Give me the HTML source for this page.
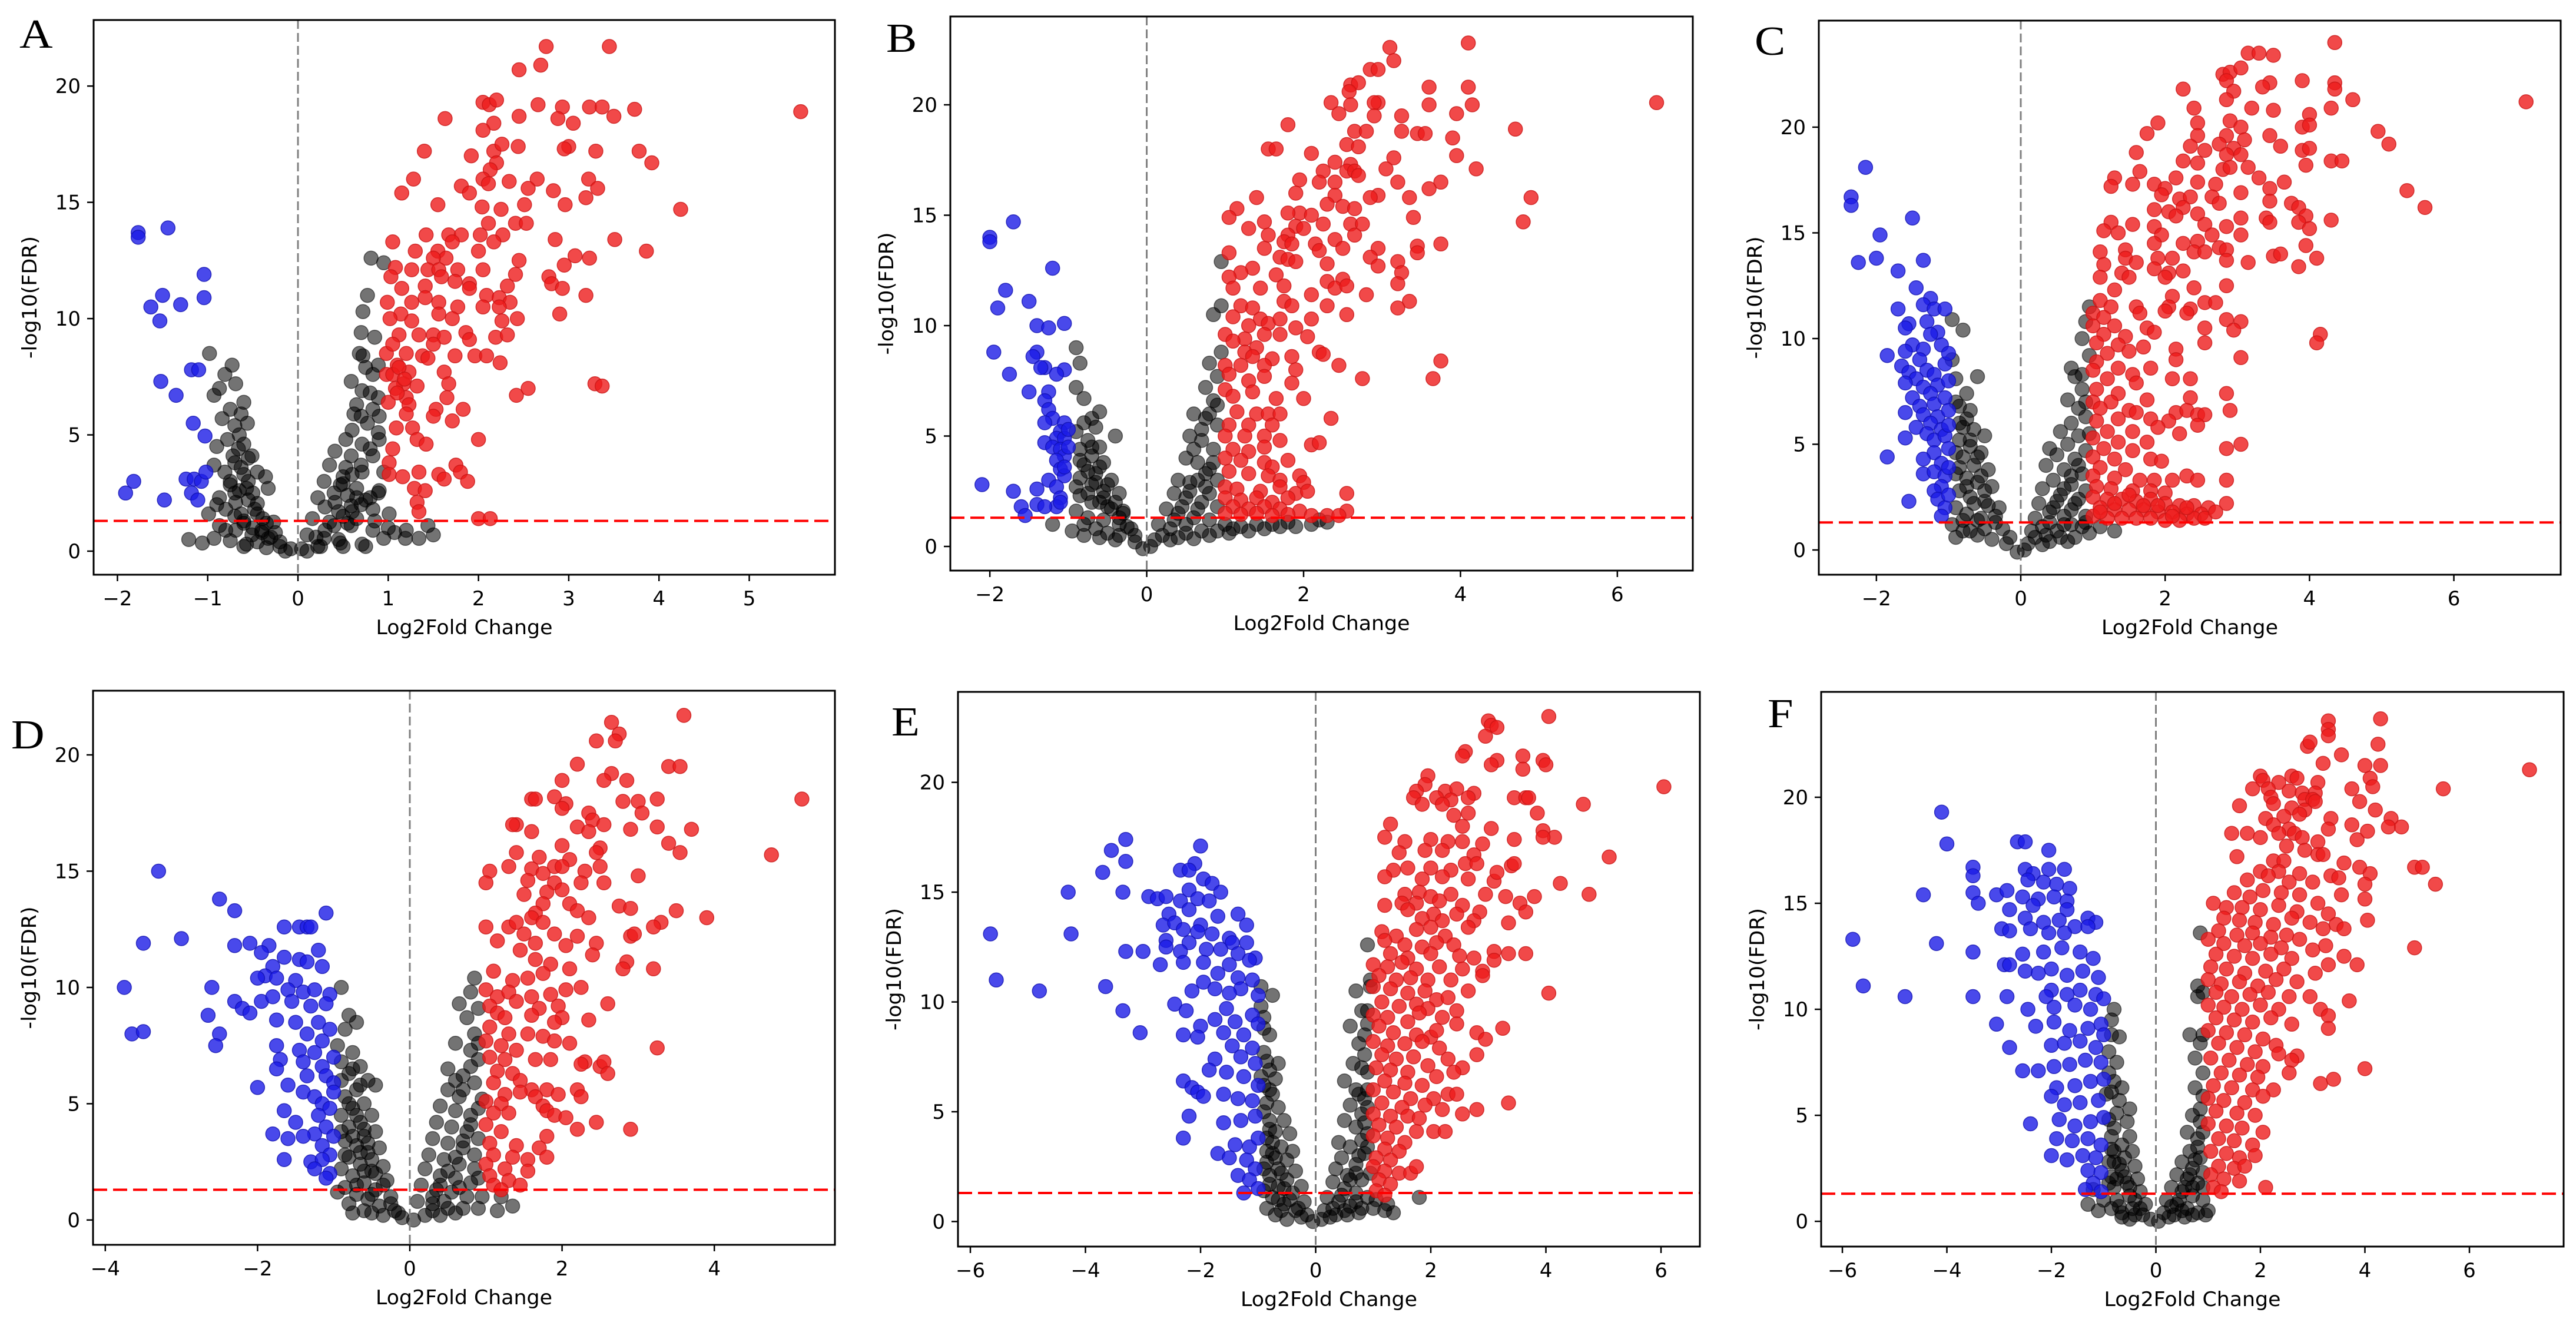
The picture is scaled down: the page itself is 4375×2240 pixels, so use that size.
<!DOCTYPE html>
<html>
<head>
<meta charset="utf-8">
<style>
html,body{margin:0;padding:0;background:#fff;}
svg{display:block;}
text{font-family:"DejaVu Sans","Liberation Sans",sans-serif;fill:#000;}
.letter{font-family:"Liberation Serif",serif;}
</style>
</head>
<body>
<svg id="fig" xmlns="http://www.w3.org/2000/svg" width="4375" height="2240" viewBox="0 0 4375 2240">
<rect x="0" y="0" width="4375" height="2240" fill="#fff"/>
</svg>
<script>
// ---------- Panel A ----------
const A_red=[[2.75,21.7],[3.45,21.7],[2.45,20.7],[2.69,20.9],[5.57,18.9],[2.05,19.3],[2.12,19.2],[2.2,19.4],[2.66,19.2],[2.93,19.1],[3.23,19.1],[3.37,19.1],[3.73,19.0],[3.5,18.7],[2.45,18.7],[1.63,18.6],[2.17,18.4],[2.88,18.6],[3.05,18.4],[2.05,18.1],[1.4,17.2],[1.92,17.0],[2.17,17.2],[2.26,17.5],[2.44,17.4],[3.0,17.4],[2.95,17.3],[3.3,17.2],[3.78,17.2],[3.92,16.7],[2.2,16.7],[2.13,16.4],[1.28,16.0],[2.05,16.0],[2.65,16.0],[3.22,16.0],[1.81,15.7],[1.9,15.4],[2.11,15.8],[2.34,15.9],[2.55,15.6],[2.83,15.5],[3.32,15.6],[1.15,15.4],[3.19,15.2],[1.55,14.9],[2.51,14.9],[2.96,14.9],[2.04,14.8],[2.25,14.7],[4.24,14.7],[2.11,14.1],[2.41,14.1],[2.53,14.1],[1.67,13.6],[1.42,13.6],[1.81,13.6],[2.02,13.6],[2.27,13.6],[2.85,13.4],[3.51,13.4],[2.17,13.3],[1.05,13.3],[1.71,13.3],[1.3,12.9],[1.55,12.9],[2.0,12.9],[3.86,12.9],[1.64,12.6],[1.5,12.6],[2.45,12.5],[3.07,12.7],[3.23,12.6],[1.08,12.2],[1.26,12.1],[1.44,12.1],[1.56,12.1],[1.77,12.1],[2.05,12.1],[2.95,12.3],[2.41,11.9],[1.03,11.8],[1.59,11.8],[1.74,11.6],[1.9,11.5],[2.78,11.8],[2.81,11.5],[1.15,11.3],[1.41,11.4],[2.32,11.4],[1.9,11.3],[2.93,11.3],[2.09,11.0],[2.23,10.9],[3.19,11.0],[0.99,10.7],[1.26,10.7],[1.41,10.9],[1.56,10.7],[1.77,10.5],[2.05,10.5],[2.35,10.7],[1.14,10.2],[1.02,10.0],[1.26,9.9],[1.56,10.2],[1.71,10.0],[2.23,10.5],[2.43,10.0],[2.9,10.2],[2.26,9.9],[1.12,9.3],[1.34,9.3],[1.5,9.3],[1.62,9.2],[1.86,9.4],[2.19,9.2],[2.32,9.3],[1.5,8.9],[1.9,9.1],[0.98,8.5],[1.2,8.5],[1.38,8.4],[1.74,8.4],[1.96,8.4],[2.09,8.4],[2.24,8.1],[1.44,8.3],[1.1,8.0],[0.98,7.6],[1.23,7.7],[1.62,7.7],[1.17,7.2],[1.67,7.2],[1.32,7.1],[1.08,7.0],[2.42,6.7],[2.55,7.0],[3.29,7.2],[3.37,7.1],[1.2,6.6],[1.65,6.6],[1.0,6.4],[1.23,6.3],[1.53,6.1],[1.83,6.1],[1.5,5.8],[1.71,5.6],[1.09,5.3],[1.27,5.3],[2.0,4.8],[1.32,4.8],[1.42,4.6],[1.05,4.4],[1.01,3.8],[1.75,3.7],[1.8,3.4],[1.34,3.4],[1.01,3.3],[1.16,3.2],[1.56,3.3],[1.62,3.1],[1.88,3.0],[1.29,2.7],[1.41,2.6],[1.32,2.1],[1.34,1.7],[2.0,1.4],[2.13,1.4],[1.05,7.6],[1.12,7.9],[1.18,7.4],[1.05,8.9],[1.1,6.8],[1.2,5.9]];
const A_blue=[[-1.77,13.7],[-1.77,13.5],[-1.44,13.9],[-1.04,11.9],[-1.5,11.0],[-1.63,10.5],[-1.3,10.6],[-1.04,10.9],[-1.53,9.9],[-1.18,7.8],[-1.1,7.8],[-1.52,7.3],[-1.35,6.7],[-1.16,5.5],[-1.03,4.95],[-1.82,3.0],[-1.91,2.5],[-1.48,2.2],[-1.24,3.1],[-1.15,3.1],[-1.07,3.0],[-1.02,3.4],[-1.18,2.5],[-1.11,2.2]];
const A_grey=[[-0.98,8.5],[-0.73,8.0],[-0.81,7.6],[-0.69,7.2],[-0.87,7.0],[-0.93,6.7],[-0.6,6.4],[-0.75,6.1],[-0.84,5.7],[-0.63,5.9],[-0.56,5.5],[-0.78,4.8],[-0.6,4.6],[-0.9,4.5],[-0.72,4.1],[-0.51,4.1],[-0.93,3.7],[-0.81,3.4],[-0.63,3.6],[-0.45,3.4],[-0.36,3.2],[-0.75,2.85],[-0.57,2.7],[-0.33,2.7],[-0.87,2.3],[-0.69,2.1],[-0.45,2.05],[-0.99,1.6],[-0.63,1.6],[-0.39,1.4],[-0.27,1.25],[-0.87,1.1],[-0.69,0.9],[-0.51,0.7],[-0.33,0.55],[-1.21,0.5],[-1.06,0.35],[-0.93,0.55],[-0.75,0.45],[-0.57,0.3],[-0.2,0.2],[-0.08,0.1],[-0.66,4.4],[-0.55,3.0],[-0.7,2.5],[-0.48,1.8],[-0.6,1.2],[-0.4,0.9],
[0.81,12.6],[0.95,12.4],[0.77,11.0],[0.72,10.3],[0.7,9.4],[0.85,9.2],[0.68,8.5],[0.72,8.4],[0.89,8.0],[0.83,7.6],[0.59,7.3],[0.71,6.9],[0.89,6.6],[0.65,6.3],[0.83,6.1],[0.62,5.9],[0.77,5.5],[0.89,5.1],[0.53,4.8],[0.71,4.6],[0.41,4.3],[0.59,4.1],[0.83,4.1],[0.35,3.7],[0.53,3.6],[0.71,3.4],[0.95,3.4],[0.29,3.0],[0.47,2.85],[0.65,2.7],[0.89,2.5],[0.22,2.3],[0.41,2.1],[0.59,1.95],[0.83,1.8],[1.01,1.6],[0.16,1.4],[0.35,1.25],[0.59,1.1],[0.83,0.9],[1.07,0.8],[1.19,0.55],[1.34,0.55],[1.5,0.7],[1.44,1.1],[0.1,0.7],[0.29,0.55],[0.47,0.35],[0.71,0.3],[0.95,0.55],[0.04,0.1],[0.22,0.2],[-0.14,0.0],[0.1,0.0],[0.5,3.2],[0.45,1.7],[0.65,1.4],[0.75,2.2],[0.55,2.4],[0.9,5.8],[0.75,7.9]];
const A_core=[[-0.9,2.0],[-0.8,1.8],[-0.7,1.5],[-0.6,1.3],[-0.5,1.0],[-0.4,0.8],[-0.3,0.6],[-0.2,0.4],[-0.75,3.0],[-0.65,2.6],[-0.55,2.2],[-0.45,1.6],[-0.35,1.2],[-0.25,0.8],[-0.7,3.8],[-0.6,3.3],[-0.5,2.5],[-0.55,4.0],[-0.65,5.0],[-0.7,5.4],[0.2,0.6],[0.3,0.9],[0.4,1.1],[0.5,1.5],[0.6,1.7],[0.7,2.0],[0.8,2.3],[0.9,2.6],[0.3,1.9],[0.4,2.5],[0.5,2.9],[0.6,3.3],[0.7,3.7],[0.8,4.4],[0.9,4.8],[0.25,0.2],[0.5,0.2],[0.75,0.2],[-0.6,0.2],[-0.35,0.15],[0.6,5.2],[0.7,5.8],[0.8,6.8],[0.65,2.3],[0.55,1.2],[0.85,1.3],[1.0,1.0],[1.2,0.9],[0.45,0.5],[-0.45,0.4],[-0.8,0.9]];
// ---------- Panel B ----------
const B_red=[[3.1,22.6],[4.1,22.8],[3.15,22.0],[2.85,21.6],[2.95,21.6],[2.6,20.9],[2.7,21.0],[2.58,20.6],[3.6,20.8],[4.1,20.8],[2.35,20.1],[2.6,20.0],[2.95,20.1],[2.9,20.1],[3.6,20.0],[4.15,20.0],[6.5,20.1],[2.45,19.6],[2.9,19.5],[3.25,19.5],[3.95,19.6],[1.8,19.1],[4.7,18.9],[2.65,18.8],[2.8,18.8],[3.25,18.8],[3.45,18.7],[3.55,18.7],[3.9,18.5],[1.55,18.0],[1.65,18.0],[2.55,18.2],[2.7,18.1],[2.1,17.8],[3.15,17.6],[3.95,17.7],[2.4,17.4],[2.6,17.3],[2.55,17.0],[2.65,17.0],[2.25,17.0],[3.05,17.1],[4.2,17.1],[2.7,16.8],[1.95,16.6],[2.2,16.5],[2.4,16.5],[3.2,16.5],[3.75,16.5],[3.6,16.2],[1.9,16.0],[2.4,15.9],[2.95,15.9],[3.35,15.8],[1.4,15.8],[2.85,15.8],[4.9,15.8],[2.5,15.4],[2.65,15.3],[2.3,15.5],[1.95,15.1],[1.15,15.3],[1.8,15.1],[2.1,15.0],[1.05,14.9],[3.4,14.9],[1.5,14.7],[2.25,14.6],[2.6,14.6],[2.75,14.6],[4.8,14.7],[1.3,14.4],[1.9,14.5],[2.0,14.4],[1.55,14.1],[1.8,14.1],[2.65,14.1],[2.4,13.9],[1.75,13.8],[1.85,13.7],[2.15,13.7],[3.45,13.6],[3.75,13.7],[1.5,13.5],[2.2,13.4],[2.5,13.5],[2.95,13.5],[3.45,13.3],[1.05,13.3],[1.7,13.1],[1.8,13.0],[1.9,12.9],[2.3,12.8],[2.85,13.1],[2.95,12.7],[3.2,12.9],[1.35,12.6],[1.2,12.4],[1.05,12.2],[1.65,12.3],[2.3,12.0],[2.5,12.1],[3.25,12.4],[3.2,11.9],[1.1,11.7],[1.45,11.7],[1.75,11.8],[2.4,11.7],[2.55,11.8],[1.75,11.1],[2.1,11.4],[2.8,11.4],[3.35,11.1],[1.2,10.9],[1.35,10.8],[1.85,10.9],[2.3,10.9],[3.2,10.8],[1.1,10.4],[1.45,10.3],[1.55,10.1],[1.7,10.3],[2.1,10.3],[2.55,10.5],[1.3,10.0],[1.0,9.6],[1.25,9.4],[1.9,9.9],[1.5,9.6],[1.7,9.6],[1.1,9.3],[2.05,9.5],[1.4,9.0],[1.25,8.8],[1.35,8.6],[1.6,8.5],[1.85,8.6],[2.2,8.8],[2.25,8.7],[1.0,8.2],[1.2,8.2],[1.5,8.2],[1.9,8.0],[2.45,8.2],[1.05,7.8],[1.5,7.7],[1.3,7.5],[1.85,7.4],[2.75,7.6],[3.65,7.6],[3.75,8.4],[1.0,7.1],[1.35,7.0],[1.1,6.8],[1.65,6.7],[2.0,6.7],[1.15,6.1],[1.4,6.0],[1.55,6.0],[1.7,6.0],[2.35,5.8],[1.05,5.5],[1.3,5.5],[1.6,5.5],[1.0,5.0],[1.25,5.0],[1.5,5.0],[1.7,4.8],[2.1,4.6],[2.2,4.7],[1.1,4.4],[1.3,4.3],[1.5,4.5],[1.0,4.0],[1.2,3.9],[1.5,3.8],[1.8,3.9],[1.6,3.6],[1.05,3.4],[1.3,3.3],[1.55,3.2],[1.7,3.0],[1.95,3.2],[2.0,2.9],[1.0,2.7],[1.15,2.6],[1.45,2.5],[1.7,2.7],[1.9,2.4],[2.05,2.5],[2.55,2.4],[1.0,2.2],[1.2,2.1],[1.4,2.2],[1.6,2.0],[1.8,2.2],[1.1,1.8],[1.3,1.7],[1.5,1.8],[1.7,1.7],[1.95,1.6],[2.55,1.6],[1.0,1.5],[1.2,1.45],[1.4,1.5],[1.6,1.4],[2.1,1.4],[2.3,1.4],[2.45,1.4],[1.8,1.45]];
const B_blue=[[-1.7,14.7],[-2.0,14.0],[-2.0,13.8],[-1.2,12.6],[-1.8,11.6],[-1.9,10.8],[-1.5,11.1],[-1.4,10.0],[-1.25,9.9],[-1.05,10.1],[-1.95,8.8],[-1.4,8.8],[-1.45,8.6],[-1.3,8.1],[-1.35,8.1],[-1.05,8.0],[-1.15,7.8],[-1.75,7.8],[-1.5,7.0],[-1.25,7.0],[-1.3,6.6],[-1.25,6.2],[-1.2,5.8],[-1.05,5.6],[-1.3,5.6],[-1.1,5.2],[-1.15,4.9],[-1.05,4.9],[-1.3,4.7],[-1.2,4.5],[-1.1,4.4],[-1.05,4.1],[-1.15,3.9],[-1.1,3.5],[-1.05,3.2],[-1.25,3.0],[-1.15,2.7],[-1.1,2.2],[-1.15,1.8],[-2.1,2.8],[-1.7,2.5],[-1.4,2.6],[-1.4,1.9],[-1.6,1.8],[-1.3,1.8],[-1.55,1.4],[-1.0,5.3],[-1.0,4.5],[-1.05,3.6],[-1.1,2.0]];
const B_grey=[[-0.9,9.0],[-0.85,8.3],[-0.9,7.2],[-0.8,6.7],[-0.6,6.1],[-0.7,5.8],[-0.8,5.6],[-0.65,5.4],[-0.4,5.0],[-0.9,5.2],[-0.75,4.8],[-0.6,4.5],[-0.85,4.4],[-0.7,4.1],[-0.55,3.8],[-0.8,3.7],[-0.65,3.3],[-0.45,3.0],[-0.85,3.1],[-0.7,2.8],[-0.55,2.5],[-0.35,2.4],[-0.85,2.3],[-0.7,2.0],[-0.5,1.8],[-0.3,1.6],[-0.9,1.6],[-0.75,1.3],[-0.55,1.2],[-0.35,1.0],[-0.2,0.8],[-0.95,0.7],[-0.8,0.5],[-0.6,0.4],[-0.4,0.3],[-0.15,0.2],[-1.2,1.0],[-0.05,-0.1],
[0.95,12.9],[0.95,10.9],[0.85,10.5],[0.95,8.8],[0.8,8.3],[0.9,7.7],[0.75,7.2],[0.85,6.6],[0.6,6.0],[0.75,5.8],[0.9,5.5],[0.55,5.0],[0.7,4.8],[0.85,4.4],[0.5,4.0],[0.65,3.8],[0.8,3.5],[0.4,3.0],[0.55,2.9],[0.75,2.7],[0.35,2.4],[0.5,2.2],[0.7,2.0],[0.9,1.8],[0.25,1.7],[0.4,1.5],[0.6,1.3],[0.8,1.2],[0.15,1.0],[0.3,0.8],[0.5,0.6],[0.7,0.7],[0.9,0.7],[1.1,0.8],[1.3,0.7],[1.5,0.8],[1.7,0.9],[1.9,0.9],[2.1,1.0],[2.3,1.1],[1.2,0.9],[1.6,1.0],[0.1,0.3],[0.3,0.3],[0.6,0.35],[0.05,0.0]];
const B_core=[[-0.85,3.9],[-0.75,3.4],[-0.65,2.9],[-0.55,2.2],[-0.45,1.7],[-0.35,1.3],[-0.25,0.9],[-0.15,0.5],[-0.7,4.5],[-0.6,3.6],[-0.5,2.8],[-0.4,2.0],[-0.3,1.5],[-0.8,1.0],[-0.65,0.8],[-0.5,0.6],[-0.35,0.5],[-0.6,2.0],[-0.75,2.4],[-0.9,2.7],[0.2,0.5],[0.35,1.2],[0.45,1.8],[0.55,2.5],[0.65,3.0],[0.75,3.3],[0.85,3.8],[0.6,4.4],[0.7,5.3],[0.8,6.0],[0.9,6.4],[0.65,1.7],[0.5,1.0],[0.8,2.4],[0.9,3.0],[1.0,1.0],[1.4,1.0],[1.8,1.1],[2.2,1.2],[0.4,0.4],[0.8,0.5],[1.05,0.6]];
// ---------- Panel C ----------
const C_red=[[4.35,24.0],[3.15,23.5],[3.3,23.5],[3.5,23.4],[2.8,22.5],[2.9,22.6],[3.05,22.8],[2.85,22.2],[3.9,22.2],[3.45,22.1],[4.35,22.1],[4.35,21.8],[3.35,21.9],[2.25,21.8],[2.95,21.7],[2.85,21.3],[4.6,21.3],[2.4,20.9],[3.2,20.9],[3.5,20.8],[4.3,20.9],[4.0,20.6],[7.0,21.2],[1.9,20.2],[2.45,20.2],[2.9,20.3],[3.05,20.0],[3.9,20.0],[4.0,20.1],[1.75,19.7],[2.45,19.6],[2.85,19.6],[3.1,19.4],[3.45,19.6],[4.95,19.8],[2.35,19.1],[2.75,19.2],[2.95,19.0],[3.6,19.1],[3.9,18.9],[4.0,19.0],[5.1,19.2],[1.6,18.8],[2.55,18.9],[2.85,18.7],[3.05,18.7],[2.25,18.4],[2.45,18.3],[4.3,18.4],[4.45,18.4],[2.8,18.0],[3.15,18.1],[2.9,18.1],[3.95,18.2],[1.65,17.9],[2.15,17.6],[2.45,17.4],[3.3,17.6],[1.3,17.6],[1.25,17.2],[1.55,17.3],[1.85,17.3],[2.0,17.1],[2.7,17.3],[3.45,17.1],[3.65,17.4],[2.65,16.7],[2.2,16.6],[3.05,16.9],[1.95,16.8],[3.45,16.5],[2.35,16.7],[2.75,16.4],[3.75,16.4],[3.85,16.2],[5.35,17.0],[5.6,16.2],[1.85,16.1],[2.05,16.0],[2.25,16.2],[2.15,15.8],[2.45,15.9],[3.05,15.7],[3.4,15.7],[3.95,15.8],[4.3,15.6],[1.25,15.5],[1.55,15.4],[1.85,15.3],[2.55,15.4],[2.85,15.3],[3.45,15.5],[3.85,15.5],[4.0,15.2],[1.15,15.1],[1.35,15.0],[1.95,14.9],[2.65,14.9],[3.05,14.9],[1.85,14.5],[2.25,14.5],[2.45,14.6],[2.75,14.3],[1.1,14.1],[1.45,14.2],[2.4,14.1],[2.55,14.1],[2.85,14.2],[3.5,13.9],[3.6,14.0],[3.95,14.4],[4.1,13.8],[1.45,13.8],[1.9,13.8],[2.1,13.8],[2.85,13.7],[3.15,13.6],[1.15,13.5],[1.6,13.6],[1.4,13.1],[1.85,13.3],[2.05,13.1],[2.25,13.2],[3.85,13.4],[1.1,12.9],[1.5,12.9],[2.0,12.9],[1.3,12.3],[2.1,12.0],[2.4,12.4],[2.85,12.5],[1.1,11.8],[1.25,11.5],[1.6,11.5],[2.05,11.5],[2.35,11.4],[2.55,11.7],[2.7,11.7],[1.0,11.2],[1.15,11.0],[1.65,11.2],[2.0,11.3],[2.3,11.2],[1.0,10.6],[1.3,10.6],[1.75,10.5],[2.85,10.9],[3.05,10.8],[1.15,10.2],[1.45,10.1],[1.85,10.3],[2.55,10.5],[2.95,10.4],[4.15,10.2],[4.1,9.8],[1.05,9.8],[1.35,9.7],[1.7,9.6],[2.55,9.8],[1.2,9.3],[1.5,9.4],[2.15,9.5],[1.05,8.9],[1.35,8.6],[2.15,9.0],[3.05,9.1],[1.8,8.6],[1.0,8.5],[1.2,8.1],[1.55,8.3],[1.6,7.9],[2.1,8.1],[2.35,8.1],[1.05,7.6],[1.35,7.4],[2.85,7.4],[1.0,7.0],[1.25,7.0],[1.75,7.1],[2.35,7.2],[1.1,6.7],[1.5,6.6],[1.6,6.5],[2.15,6.5],[2.3,6.6],[2.45,6.4],[2.9,6.6],[1.05,6.1],[1.35,6.2],[1.8,6.2],[2.05,6.1],[2.55,6.4],[1.2,5.6],[1.55,5.6],[1.9,5.8],[2.2,5.5],[2.45,5.9],[1.0,5.3],[1.35,5.1],[1.75,5.1],[3.05,5.0],[1.15,4.8],[1.55,4.7],[2.85,4.8],[1.0,4.4],[1.3,4.3],[1.8,4.3],[1.95,4.2],[1.1,3.9],[1.45,3.8],[2.3,3.5],[1.0,3.5],[1.3,3.4],[1.65,3.3],[1.85,3.3],[2.1,3.3],[2.45,3.3],[2.85,3.3],[1.05,3.0],[1.25,2.9],[1.55,2.8],[1.8,2.8],[2.0,2.7],[1.0,2.5],[1.2,2.4],[1.4,2.4],[1.6,2.3],[1.8,2.4],[2.0,2.2],[2.2,2.1],[2.4,2.1],[2.6,2.0],[2.85,2.2],[1.1,2.0],[1.3,1.9],[1.5,1.9],[1.7,1.9],[1.9,1.8],[2.1,1.8],[2.3,1.7],[2.5,1.7],[1.0,1.6],[1.2,1.5],[1.4,1.5],[1.6,1.5],[1.8,1.5],[2.0,1.4],[2.2,1.4],[2.4,1.5],[1.1,1.8],[1.3,2.2],[1.5,2.6],[1.7,2.1],[1.9,2.1],[2.1,1.6],[2.3,2.0],[2.55,1.5],[2.7,1.8]];
const C_blue=[[-2.15,18.1],[-2.35,16.7],[-2.35,16.3],[-1.5,15.7],[-1.95,14.9],[-2.25,13.6],[-2.0,13.8],[-1.35,13.7],[-1.7,13.2],[-1.45,12.4],[-1.25,11.9],[-1.35,11.6],[-1.2,11.4],[-1.05,11.4],[-1.7,11.4],[-1.55,10.7],[-1.6,10.5],[-1.3,10.8],[-1.15,10.3],[-1.25,10.2],[-1.5,9.7],[-1.6,9.4],[-1.85,9.2],[-1.35,9.5],[-1.1,9.7],[-1.4,9.0],[-1.65,8.7],[-1.55,8.4],[-1.3,8.5],[-1.2,8.3],[-1.05,8.8],[-1.45,8.1],[-1.6,7.9],[-1.35,7.7],[-1.15,7.8],[-1.25,7.4],[-1.5,7.2],[-1.4,6.8],[-1.2,6.9],[-1.05,7.2],[-1.6,6.5],[-1.35,6.4],[-1.15,6.3],[-1.0,6.6],[-1.25,6.0],[-1.45,5.8],[-1.1,5.7],[-1.6,5.3],[-1.3,5.5],[-1.2,5.2],[-1.05,5.4],[-1.0,4.8],[-1.2,4.6],[-1.35,4.3],[-1.85,4.4],[-1.1,4.1],[-1.35,3.6],[-1.2,3.7],[-1.05,3.5],[-1.1,3.0],[-1.2,2.8],[-1.55,2.3],[-1.15,2.4],[-1.05,2.0],[-1.1,1.6],[-1.0,9.3],[-1.0,8.0],[-1.0,5.9],[-1.0,3.9],[-1.0,2.6]];
const C_grey=[[-0.95,10.9],[-0.8,10.4],[-0.95,9.0],[-0.9,8.1],[-0.6,8.2],[-0.75,7.4],[-0.9,7.0],[-0.7,6.6],[-0.85,6.0],[-0.65,5.7],[-0.5,5.4],[-0.85,5.2],[-0.7,4.9],[-0.55,4.6],[-0.8,4.4],[-0.65,4.0],[-0.45,3.8],[-0.9,3.6],[-0.75,3.4],[-0.6,3.2],[-0.4,3.0],[-0.85,2.8],[-0.7,2.5],[-0.5,2.3],[-0.3,2.0],[-0.9,2.0],[-0.75,1.7],[-0.55,1.5],[-0.35,1.3],[-0.95,1.2],[-0.8,0.9],[-0.6,0.7],[-0.4,0.5],[-0.2,0.3],[-0.9,0.6],[-0.05,-0.1],
[0.95,11.5],[0.9,10.8],[0.85,10.0],[0.95,9.2],[0.7,8.6],[0.75,8.2],[0.85,7.6],[0.65,7.1],[0.8,6.7],[0.9,6.3],[0.7,6.0],[0.55,5.6],[0.8,5.4],[0.65,5.0],[0.4,4.8],[0.5,4.5],[0.75,4.3],[0.35,4.0],[0.6,3.8],[0.85,3.6],[0.45,3.3],[0.7,3.1],[0.3,2.9],[0.55,2.6],[0.8,2.4],[0.25,2.2],[0.45,2.0],[0.7,1.9],[0.9,1.6],[0.2,1.5],[0.4,1.3],[0.6,1.2],[0.85,1.1],[0.15,0.9],[0.35,0.7],[0.55,0.6],[0.75,0.6],[0.1,0.3],[0.3,0.25],[1.3,0.9],[1.1,1.1],[0.05,0.0]];
const C_core=[[-0.8,5.8],[-0.7,5.2],[-0.6,4.4],[-0.55,3.5],[-0.5,2.8],[-0.45,2.1],[-0.35,1.6],[-0.25,1.0],[-0.15,0.6],[-0.85,3.9],[-0.75,3.0],[-0.65,2.2],[-0.6,1.4],[-0.5,1.0],[-0.7,0.9],[-0.8,1.4],[-0.9,4.6],[-0.85,6.8],[-0.75,6.2],[0.2,0.6],[0.3,1.1],[0.4,1.8],[0.5,2.3],[0.6,2.9],[0.7,3.5],[0.8,4.0],[0.9,4.7],[0.95,5.5],[0.9,7.0],[0.85,8.3],[0.6,1.6],[0.75,2.2],[0.9,2.8],[0.5,0.9],[0.7,1.2],[0.9,1.3],[0.4,0.4],[0.65,0.4],[0.95,0.8]];
// ---------- Panel D ----------
const D_red=[[3.6,21.7],[2.65,21.4],[2.75,20.9],[2.45,20.6],[2.7,20.6],[2.2,19.6],[3.4,19.5],[3.55,19.5],[2.65,19.2],[2.0,18.9],[2.55,18.9],[2.85,18.9],[5.15,18.1],[1.6,18.1],[1.65,18.1],[1.9,18.2],[2.05,17.9],[2.8,18.0],[3.0,18.0],[3.25,18.1],[2.0,17.7],[3.05,17.5],[2.35,17.5],[2.4,17.2],[2.55,17.0],[1.4,17.0],[1.35,17.0],[2.2,16.9],[2.9,16.8],[3.25,16.9],[3.7,16.8],[1.6,16.7],[2.35,16.7],[2.0,16.1],[2.5,16.0],[3.4,16.2],[1.4,15.8],[2.45,15.8],[3.55,15.8],[4.75,15.7],[2.1,15.5],[1.7,15.6],[1.9,15.2],[2.0,15.2],[1.3,15.2],[1.05,15.0],[1.6,15.1],[1.75,14.9],[2.3,15.0],[2.5,15.2],[3.0,14.8],[1.0,14.5],[1.55,14.6],[1.9,14.5],[2.25,14.5],[2.55,14.5],[1.5,14.0],[1.8,14.1],[2.0,14.2],[1.75,13.6],[2.1,13.6],[2.2,13.3],[1.65,13.2],[1.6,13.0],[1.75,12.8],[2.35,13.0],[2.75,13.5],[2.9,13.4],[3.5,13.3],[3.9,13.0],[1.0,12.6],[1.3,12.6],[1.4,12.8],[1.5,12.3],[1.9,12.3],[2.2,12.2],[2.9,12.2],[2.95,12.3],[3.3,12.8],[3.2,12.6],[1.15,12.0],[1.45,11.6],[1.65,11.9],[2.05,11.8],[2.45,11.9],[1.65,11.2],[1.85,11.0],[2.4,11.4],[1.1,10.7],[1.35,10.3],[1.55,10.4],[1.75,10.6],[2.1,10.8],[2.85,11.1],[3.2,10.8],[2.8,10.8],[1.0,9.9],[1.15,9.6],[1.3,9.8],[1.6,9.6],[1.85,9.7],[2.05,9.9],[2.25,10.0],[1.05,9.2],[1.4,9.4],[1.7,9.1],[1.95,9.2],[2.6,9.3],[1.15,8.9],[1.25,8.7],[1.6,8.8],[2.0,8.7],[1.9,8.5],[2.35,8.6],[1.05,8.3],[1.3,8.0],[1.55,8.0],[1.75,7.9],[1.9,7.7],[2.1,7.6],[1.0,7.7],[1.2,7.5],[1.4,7.3],[3.25,7.4],[1.05,7.0],[1.25,6.9],[1.65,6.9],[1.85,6.9],[2.3,6.8],[2.5,6.6],[2.55,6.8],[1.15,6.4],[1.35,6.3],[1.45,6.0],[2.6,6.3],[2.25,6.7],[1.1,5.9],[1.6,5.6],[1.8,5.6],[2.2,5.6],[1.25,5.4],[1.45,5.5],[1.65,5.3],[1.95,5.4],[2.25,5.3],[1.0,5.1],[1.2,5.0],[1.75,4.9],[1.1,4.6],[1.3,4.6],[1.8,4.7],[1.9,4.5],[2.05,4.4],[2.45,4.2],[2.9,3.9],[2.2,3.9],[1.0,4.1],[1.2,3.8],[1.8,3.6],[1.05,3.3],[1.4,3.2],[1.7,3.1],[1.1,2.8],[1.35,2.7],[1.55,2.6],[1.8,2.7],[1.0,2.4],[1.25,2.2],[1.55,2.1],[1.05,1.9],[1.3,1.7],[1.45,1.5],[1.1,1.5],[1.2,1.3]];
const D_blue=[[-3.3,15.0],[-2.5,13.8],[-2.3,13.3],[-1.1,13.2],[-1.65,12.6],[-1.45,12.6],[-1.35,12.6],[-1.3,12.6],[-3.5,11.9],[-3.0,12.1],[-2.3,11.8],[-2.1,11.9],[-1.85,11.8],[-1.95,11.5],[-1.2,11.6],[-1.65,11.3],[-1.45,11.2],[-1.35,11.1],[-1.15,10.9],[-1.8,10.9],[-1.9,10.5],[-2.0,10.4],[-1.75,10.4],[-1.5,10.3],[-1.6,9.9],[-1.4,9.8],[-1.25,9.9],[-1.05,9.7],[-3.75,10.0],[-2.6,10.0],[-2.3,9.4],[-2.2,9.1],[-2.1,8.9],[-1.95,9.4],[-1.8,9.6],[-1.55,9.4],[-1.3,9.2],[-1.1,9.3],[-2.65,8.8],[-1.75,8.6],[-1.5,8.5],[-1.2,8.5],[-1.05,8.2],[-3.65,8.0],[-3.5,8.1],[-2.5,8.0],[-1.35,8.0],[-1.15,7.7],[-2.55,7.5],[-1.75,7.5],[-1.45,7.3],[-1.25,7.2],[-1.0,7.0],[-1.7,6.9],[-1.4,6.8],[-1.15,6.6],[-1.75,6.5],[-1.35,6.2],[-1.1,6.2],[-1.0,5.9],[-1.6,5.8],[-2.0,5.7],[-1.4,5.5],[-1.25,5.3],[-1.15,5.0],[-1.05,4.8],[-1.65,4.7],[-1.5,4.2],[-1.2,4.5],[-1.1,4.0],[-1.25,3.7],[-1.8,3.7],[-1.4,3.6],[-1.6,3.5],[-1.15,3.2],[-1.05,2.8],[-1.65,2.6],[-1.3,2.5],[-1.15,2.6],[-1.25,2.2],[-1.05,2.0],[-1.1,1.8],[-1.0,3.6],[-1.0,5.5]];
const D_grey=[[-0.9,10.0],[-0.8,8.8],[-0.7,8.5],[-0.85,8.2],[-0.95,7.5],[-0.75,7.2],[-0.9,6.8],[-0.65,6.6],[-0.8,6.3],[-0.55,6.0],[-0.45,5.8],[-0.9,6.0],[-0.7,5.6],[-0.85,5.3],[-0.6,5.0],[-0.75,4.8],[-0.5,4.5],[-0.9,4.5],[-0.65,4.2],[-0.8,4.0],[-0.45,3.8],[-0.6,3.6],[-0.85,3.4],[-0.7,3.2],[-0.4,3.1],[-0.55,2.9],[-0.8,2.7],[-0.65,2.4],[-0.35,2.3],[-0.9,2.2],[-0.5,2.1],[-0.75,1.9],[-0.3,1.7],[-0.6,1.6],[-0.85,1.4],[-0.45,1.3],[-0.95,1.2],[-0.7,1.1],[-0.25,1.0],[-0.55,0.9],[-0.8,0.7],[-0.4,0.6],[-0.75,0.3],[-0.6,0.4],[-0.2,0.4],[-0.1,0.1],
[0.85,10.4],[0.8,9.8],[0.65,9.3],[0.9,9.1],[0.75,8.7],[0.85,8.0],[0.6,7.6],[0.8,7.3],[0.9,6.9],[0.5,6.5],[0.7,6.2],[0.85,5.9],[0.5,5.6],[0.65,5.3],[0.95,5.2],[0.4,4.9],[0.6,4.7],[0.8,4.5],[0.35,4.2],[0.55,4.0],[0.75,3.8],[0.9,3.5],[0.3,3.5],[0.5,3.3],[0.7,3.1],[0.25,2.8],[0.45,2.6],[0.65,2.4],[0.85,2.2],[0.2,2.2],[0.4,1.9],[0.6,1.8],[0.8,1.6],[0.15,1.5],[0.35,1.3],[0.55,1.2],[0.75,1.0],[0.95,1.0],[0.1,0.8],[0.3,0.7],[0.5,0.5],[0.7,0.5],[1.2,1.0],[1.35,0.6],[1.15,0.4],[0.2,0.2],[0.4,0.2],[0.05,0.0]];
const D_core=[[-0.8,5.0],[-0.7,4.5],[-0.6,3.9],[-0.55,3.3],[-0.5,2.6],[-0.45,2.0],[-0.35,1.5],[-0.25,0.7],[-0.15,0.3],[-0.75,3.6],[-0.65,2.9],[-0.6,2.1],[-0.7,1.5],[-0.5,1.1],[-0.85,2.8],[-0.9,3.8],[-0.75,6.5],[-0.65,5.8],[0.3,1.0],[0.4,1.5],[0.5,2.1],[0.6,2.7],[0.7,3.4],[0.8,4.1],[0.9,4.8],[0.7,5.6],[0.6,6.0],[0.8,6.6],[0.9,7.6],[0.85,2.8],[0.65,1.4],[0.9,1.8],[0.45,0.8],[0.6,0.3],[0.9,0.5],[0.3,0.4],[-0.35,0.2],[-0.5,0.3]];
// ---------- Panel E ----------
const E_red=[[4.05,23.0],[3.0,22.8],[3.05,22.6],[3.15,22.5],[2.95,22.1],[2.6,21.4],[2.55,21.2],[3.15,21.0],[3.05,20.8],[3.6,21.2],[3.95,21.0],[4.0,20.8],[3.6,20.6],[1.95,20.3],[6.05,19.8],[1.9,19.9],[1.75,19.6],[2.25,19.6],[2.45,19.7],[2.75,19.5],[1.7,19.3],[2.1,19.3],[2.35,19.2],[2.65,19.3],[1.85,19.0],[2.2,19.0],[3.45,19.3],[3.65,19.3],[3.7,19.3],[4.65,19.0],[2.65,18.6],[2.4,18.5],[3.85,18.6],[1.3,18.1],[2.55,18.0],[3.05,17.9],[3.95,17.8],[1.2,17.5],[1.55,17.3],[2.0,17.4],[2.3,17.3],[2.55,17.3],[2.9,17.2],[3.45,17.4],[4.15,17.5],[3.95,17.5],[1.45,16.8],[1.9,16.9],[2.2,16.9],[2.75,16.7],[2.6,16.3],[5.1,16.6],[1.35,16.0],[1.6,16.1],[2.0,16.1],[2.35,16.0],[2.8,16.3],[3.4,16.2],[3.45,16.3],[1.2,15.7],[1.85,15.6],[2.2,15.7],[2.65,15.6],[3.1,15.5],[3.15,15.9],[4.25,15.4],[1.55,14.9],[1.8,15.0],[2.0,14.8],[2.35,14.9],[2.95,14.9],[3.3,14.8],[4.75,14.9],[3.8,14.8],[1.2,14.4],[1.5,14.5],[1.75,14.5],[2.15,14.6],[2.55,14.4],[3.55,14.5],[1.6,14.2],[2.05,14.0],[2.45,14.0],[2.85,14.1],[3.65,14.1],[1.85,13.8],[2.2,13.7],[2.75,13.7],[3.35,13.6],[1.15,13.2],[1.4,13.0],[1.75,13.3],[2.0,13.4],[2.25,13.0],[2.65,13.4],[1.2,12.8],[1.55,12.6],[1.85,12.5],[2.1,12.7],[2.4,12.6],[1.3,12.2],[1.6,12.0],[2.0,12.2],[2.5,12.1],[2.75,12.0],[3.1,12.3],[3.35,12.2],[3.65,12.2],[1.0,11.7],[1.25,11.6],[1.5,11.8],[1.75,11.5],[2.15,11.6],[2.55,11.5],[2.9,11.4],[3.1,11.9],[1.1,11.2],[1.4,11.0],[1.65,11.1],[1.95,11.0],[2.35,11.0],[2.9,11.2],[1.0,10.7],[1.3,10.6],[1.6,10.4],[1.9,10.5],[2.1,10.1],[2.3,10.2],[2.65,10.5],[4.05,10.4],[1.15,10.0],[1.45,9.8],[1.75,9.9],[1.95,9.7],[2.45,9.6],[1.0,9.4],[1.25,9.3],[1.6,9.1],[1.8,9.5],[2.2,9.3],[2.45,9.0],[3.25,8.8],[1.1,8.9],[1.35,8.6],[1.75,8.5],[2.0,8.4],[2.1,8.7],[2.8,8.6],[2.95,8.3],[1.0,8.2],[1.25,8.0],[1.55,8.1],[1.85,8.2],[2.15,7.9],[2.8,7.6],[1.15,7.6],[1.4,7.4],[1.7,7.5],[2.3,7.4],[1.05,7.0],[1.3,6.9],[1.6,6.8],[1.95,7.1],[2.55,7.0],[2.4,6.8],[1.2,6.4],[1.55,6.3],[1.85,6.2],[2.1,6.6],[1.0,6.0],[1.35,5.9],[1.65,5.6],[2.05,5.6],[2.3,5.8],[2.45,5.8],[1.15,5.4],[1.5,5.2],[1.9,5.3],[2.2,5.1],[3.35,5.4],[1.0,4.9],[1.3,4.8],[1.6,4.8],[1.8,4.7],[2.55,4.9],[2.8,5.1],[1.1,4.4],[1.4,4.3],[1.75,4.1],[2.05,4.1],[2.25,4.1],[1.0,3.9],[1.25,3.8],[1.55,3.6],[1.2,3.3],[1.45,3.2],[1.05,2.9],[1.3,2.8],[1.0,2.5],[1.2,2.3],[1.45,2.2],[1.65,2.2],[1.75,2.5],[1.1,1.9],[1.3,1.7],[1.05,1.4],[1.2,1.2]];
const E_blue=[[-3.3,17.4],[-2.0,17.1],[-3.55,16.9],[-3.3,16.4],[-2.1,16.3],[-3.7,15.9],[-2.35,16.0],[-2.2,16.0],[-1.95,15.6],[-1.8,15.4],[-2.2,15.1],[-1.65,15.0],[-4.3,15.0],[-3.35,15.0],[-2.9,14.8],[-2.75,14.7],[-2.6,14.8],[-2.35,14.6],[-2.05,14.7],[-1.85,14.6],[-1.35,14.0],[-2.55,14.0],[-2.2,14.2],[-1.7,13.9],[-2.65,13.5],[-2.45,13.6],[-2.0,13.5],[-1.2,13.5],[-5.65,13.1],[-4.25,13.1],[-2.3,13.3],[-2.05,13.2],[-1.8,13.1],[-1.5,12.9],[-2.6,12.8],[-2.2,12.7],[-1.45,12.7],[-1.2,12.7],[-2.6,12.5],[-2.35,12.3],[-1.9,12.4],[-1.65,12.4],[-3.3,12.3],[-3.0,12.3],[-1.35,12.2],[-1.05,12.0],[-2.3,11.8],[-2.7,11.7],[-1.95,11.8],[-1.5,11.7],[-1.15,11.9],[-1.7,11.3],[-1.35,11.1],[-1.1,11.0],[-5.55,11.0],[-1.95,10.9],[-1.75,10.6],[-1.3,10.6],[-4.8,10.5],[-3.65,10.7],[-2.15,10.5],[-1.5,10.4],[-1.0,10.3],[-2.45,9.9],[-1.55,9.7],[-3.35,9.6],[-2.25,9.6],[-1.75,9.2],[-1.4,9.1],[-1.1,9.4],[-3.05,8.6],[-2.3,8.5],[-2.0,8.9],[-2.05,8.4],[-1.6,8.6],[-1.25,8.5],[-1.45,8.0],[-1.1,7.9],[-1.75,7.4],[-1.3,7.5],[-1.05,7.2],[-1.85,6.9],[-1.55,6.8],[-1.25,6.6],[-2.3,6.4],[-2.15,6.1],[-2.05,5.9],[-1.95,5.7],[-1.6,5.8],[-1.35,5.6],[-1.1,5.5],[-2.2,4.8],[-1.6,4.5],[-1.3,4.6],[-1.05,4.8],[-2.3,3.8],[-1.4,3.5],[-1.15,3.4],[-1.7,3.1],[-1.5,2.9],[-1.2,2.8],[-1.05,2.4],[-1.35,2.1],[-1.15,1.9],[-1.0,1.5],[-1.25,1.3],[-1.0,6.2],[-1.0,9.0],[-1.0,3.8]];
const E_grey=[[-0.95,10.7],[-0.75,10.3],[-0.95,9.8],[-0.9,8.8],[-0.8,8.5],[-0.9,7.7],[-0.65,7.2],[-0.8,6.9],[-0.7,6.5],[-0.9,6.2],[-0.75,5.8],[-0.85,5.4],[-0.65,5.2],[-0.55,4.6],[-0.8,4.6],[-0.45,4.0],[-0.7,4.1],[-0.85,3.8],[-0.6,3.4],[-0.4,3.2],[-0.75,3.1],[-0.5,2.8],[-0.85,2.7],[-0.65,2.4],[-0.35,2.3],[-0.8,2.1],[-0.5,1.9],[-0.25,1.6],[-0.65,1.6],[-0.9,1.4],[-0.4,1.3],[-0.75,1.1],[-0.2,0.9],[-0.55,0.8],[-0.85,0.6],[-0.35,0.5],[-0.7,0.3],[-0.15,0.3],[-0.5,0.1],[-0.05,0.0],
[0.9,12.6],[0.7,10.5],[0.95,10.7],[0.8,9.6],[0.6,8.9],[0.9,9.0],[0.75,8.1],[0.85,7.6],[0.65,7.2],[0.9,6.8],[0.5,6.4],[0.7,6.0],[0.85,5.6],[0.6,5.3],[0.8,4.9],[0.5,4.6],[0.7,4.3],[0.9,4.0],[0.4,3.6],[0.6,3.4],[0.85,3.1],[0.45,2.9],[0.7,2.6],[0.35,2.4],[0.55,2.1],[0.8,1.9],[0.3,1.8],[0.5,1.5],[0.7,1.3],[0.9,1.1],[0.2,1.1],[0.4,0.9],[0.6,0.7],[0.8,0.6],[1.0,0.6],[1.2,0.5],[1.35,0.4],[0.15,0.5],[0.35,0.3],[0.55,0.3],[1.8,1.1],[0.1,0.1]];
const E_core=[[-0.9,5.0],[-0.8,4.2],[-0.75,3.6],[-0.7,2.9],[-0.6,2.2],[-0.55,1.5],[-0.45,1.0],[-0.3,0.6],[-0.85,3.2],[-0.9,2.4],[-0.8,1.7],[-0.65,1.0],[-0.9,9.3],[-0.85,7.3],[-0.95,6.6],[-0.8,6.0],[0.3,0.6],[0.45,1.2],[0.6,1.9],[0.7,2.2],[0.75,3.0],[0.8,3.7],[0.85,4.5],[0.9,5.2],[0.75,5.8],[0.9,6.0],[0.8,7.0],[0.85,8.5],[0.9,9.6],[0.95,11.0],[0.9,3.4],[0.95,2.2],[1.05,1.0],[1.25,0.8],[0.7,0.9],[0.5,0.5],[0.25,0.2],[0.75,0.4],[-0.25,0.2],[-0.6,0.5]];
// ---------- Panel F ----------
const F_red=[[3.3,23.6],[4.3,23.7],[3.3,23.2],[3.3,22.9],[2.9,22.4],[2.95,22.6],[4.25,22.5],[3.55,22.0],[3.2,21.6],[4.0,21.5],[4.3,21.5],[2.0,21.0],[2.6,21.0],[2.7,20.9],[2.05,20.8],[2.35,20.7],[3.1,20.7],[4.1,20.9],[7.15,21.3],[1.85,20.4],[2.15,20.4],[2.55,20.3],[2.8,20.2],[3.05,20.2],[3.75,20.4],[4.15,20.5],[5.5,20.4],[2.2,20.0],[2.85,19.9],[3.0,19.9],[3.9,19.8],[1.6,19.6],[2.25,19.7],[2.6,19.5],[2.85,19.4],[3.05,19.8],[4.2,19.4],[2.1,19.0],[2.45,19.1],[2.75,19.2],[3.35,19.0],[4.5,19.0],[2.25,18.7],[2.55,18.5],[3.3,18.5],[3.75,18.7],[4.45,18.6],[4.7,18.6],[1.45,18.3],[1.75,18.3],[2.0,18.1],[2.35,18.3],[2.65,18.3],[2.8,18.1],[3.1,17.9],[3.85,18.0],[4.05,18.4],[2.5,17.7],[2.85,17.5],[3.1,17.3],[1.55,17.2],[2.25,17.0],[2.45,17.0],[3.2,17.3],[3.6,16.9],[3.9,16.7],[4.1,16.4],[4.95,16.7],[5.1,16.7],[2.0,16.5],[2.35,16.5],[2.75,16.4],[3.35,16.3],[3.5,16.2],[1.75,16.1],[2.15,16.3],[2.55,16.0],[3.0,16.0],[4.0,15.9],[5.35,15.9],[1.5,15.5],[1.8,15.3],[2.05,15.6],[2.4,15.5],[2.75,15.4],[3.1,15.0],[3.55,15.4],[4.0,15.2],[1.1,15.0],[1.35,14.8],[1.65,14.8],[2.0,14.7],[2.35,14.9],[2.7,14.6],[3.3,14.5],[1.3,14.3],[1.6,14.2],[1.9,14.1],[2.25,14.0],[2.6,14.3],[2.95,14.1],[3.45,14.0],[4.05,14.2],[1.2,13.7],[1.55,13.5],[1.85,13.6],[2.2,13.4],[2.5,13.5],[3.2,13.8],[3.6,13.8],[1.0,13.3],[1.3,13.1],[1.7,13.0],[2.0,13.1],[2.4,12.9],[2.75,13.3],[3.25,13.0],[4.95,12.9],[1.15,12.6],[1.5,12.5],[1.85,12.4],[2.2,12.6],[2.6,12.4],[3.0,12.8],[3.6,12.5],[1.05,12.0],[1.35,11.9],[1.7,11.7],[2.1,11.8],[2.45,11.9],[3.3,12.1],[3.85,12.1],[1.0,11.4],[1.25,11.2],[1.6,11.3],[1.95,11.1],[2.3,11.4],[2.7,11.3],[3.05,11.7],[1.15,10.8],[1.45,10.6],[1.8,10.7],[2.15,10.8],[2.55,10.6],[2.95,10.6],[3.7,10.4],[1.0,10.2],[1.3,10.1],[1.65,10.0],[2.0,10.2],[2.35,10.0],[3.15,10.0],[3.3,9.7],[1.15,9.6],[1.5,9.5],[1.85,9.4],[2.2,9.6],[2.6,9.3],[1.0,9.0],[1.35,8.9],[1.7,8.8],[2.05,8.6],[2.3,8.3],[3.3,9.1],[1.2,8.4],[1.55,8.2],[1.9,8.0],[2.35,7.9],[2.7,7.8],[1.05,7.7],[1.4,7.6],[1.75,7.4],[2.05,7.3],[2.6,7.6],[1.25,7.0],[1.6,6.9],[1.95,6.8],[2.55,7.0],[4.0,7.2],[1.1,6.4],[1.45,6.3],[1.85,6.2],[2.25,6.2],[3.15,6.5],[3.4,6.7],[1.0,5.8],[1.3,5.7],[1.7,5.6],[2.05,5.9],[1.15,5.2],[1.55,5.1],[1.9,5.0],[1.0,4.6],[1.35,4.5],[1.65,4.4],[2.05,4.2],[1.2,3.9],[1.5,3.8],[1.85,3.6],[1.05,3.3],[1.35,3.2],[1.6,3.0],[1.9,3.1],[1.2,2.6],[1.5,2.5],[1.7,2.6],[1.05,2.2],[1.3,2.0],[1.6,1.9],[2.1,1.6],[1.1,1.6],[1.25,1.4]];
const F_blue=[[-4.1,19.3],[-4.0,17.8],[-2.65,17.9],[-2.5,17.9],[-2.05,17.5],[-3.5,16.7],[-3.5,16.3],[-2.5,16.6],[-2.35,16.4],[-2.05,16.6],[-1.75,16.6],[-2.45,16.1],[-2.15,16.0],[-1.9,15.9],[-1.65,15.7],[-4.45,15.4],[-3.5,15.5],[-3.05,15.4],[-2.85,15.6],[-2.55,15.3],[-2.25,15.2],[-1.95,15.3],[-1.7,15.1],[-3.4,15.0],[-2.8,14.7],[-2.35,14.9],[-1.7,14.7],[-1.3,14.3],[-1.15,14.1],[-2.5,14.3],[-2.15,14.1],[-1.85,14.2],[-1.55,13.9],[-1.3,13.9],[-2.4,13.8],[-2.05,13.6],[-1.75,13.6],[-2.95,13.8],[-2.8,13.7],[-5.8,13.3],[-4.2,13.1],[-3.5,12.7],[-2.55,12.6],[-2.15,12.7],[-1.8,12.9],[-1.45,12.7],[-1.2,12.4],[-2.9,12.1],[-2.8,12.1],[-2.5,11.8],[-2.25,11.7],[-2.0,11.9],[-1.7,11.6],[-1.4,11.8],[-1.1,11.5],[-5.6,11.1],[-2.0,10.9],[-1.7,10.7],[-1.45,10.9],[-1.15,10.7],[-4.8,10.6],[-3.5,10.6],[-2.85,10.6],[-2.45,10.0],[-2.1,10.6],[-1.95,10.1],[-1.55,10.2],[-1.25,10.0],[-3.05,9.3],[-2.3,9.2],[-1.95,9.4],[-1.65,9.0],[-1.3,9.1],[-1.05,9.3],[-2.8,8.2],[-2.0,8.3],[-1.75,8.4],[-1.45,8.5],[-1.15,8.2],[-2.55,7.1],[-2.25,7.1],[-1.95,7.3],[-1.65,7.4],[-1.35,7.6],[-1.05,7.5],[-1.9,6.3],[-1.55,6.4],[-1.25,6.6],[-2.0,5.9],[-1.75,5.5],[-1.45,5.6],[-1.1,5.7],[-2.4,4.6],[-1.85,4.8],[-1.55,4.5],[-1.25,4.7],[-1.0,4.9],[-1.9,3.9],[-1.6,3.8],[-1.3,3.9],[-1.05,3.6],[-2.0,3.1],[-1.7,2.9],[-1.4,3.1],[-1.15,3.0],[-1.3,2.4],[-1.05,2.3],[-1.2,1.8],[-1.35,1.5],[-1.05,1.4],[-1.0,6.7],[-1.0,10.5],[-1.0,8.8]];
const F_grey=[[-0.8,10.0],[-0.7,8.7],[-0.85,8.8],[-0.9,8.0],[-0.75,7.5],[-0.8,6.6],[-0.65,6.3],[-0.85,6.1],[-0.7,5.7],[-0.5,5.3],[-0.75,5.1],[-0.55,4.7],[-0.8,4.4],[-0.5,4.0],[-0.65,3.6],[-0.85,3.4],[-0.45,3.3],[-0.6,3.0],[-0.8,2.8],[-0.4,2.6],[-0.65,2.4],[-0.85,2.1],[-0.35,2.0],[-0.55,1.8],[-0.8,1.6],[-0.3,1.4],[-0.5,1.2],[-0.75,1.0],[-1.0,1.0],[-1.2,1.5],[-1.3,0.8],[-0.2,0.8],[-0.45,0.6],[-0.65,0.4],[-0.85,0.6],[-0.25,0.3],[-0.1,0.1],[-0.5,0.1],
[0.85,13.6],[0.8,11.1],[0.8,10.6],[0.65,8.8],[0.85,8.4],[0.75,7.7],[0.9,7.0],[0.75,6.3],[0.9,5.9],[0.7,5.0],[0.85,4.7],[0.6,4.2],[0.8,3.9],[0.65,3.3],[0.85,3.0],[0.5,2.8],[0.7,2.5],[0.9,2.3],[0.4,2.2],[0.6,2.0],[0.8,1.8],[0.3,1.6],[0.5,1.4],[0.7,1.2],[0.9,1.0],[0.2,1.0],[0.4,0.8],[0.6,0.6],[0.8,0.4],[1.0,0.5],[0.95,0.3],[0.15,0.4],[0.35,0.3],[0.55,0.2],[0.05,0.0]];
const F_core=[[-0.9,4.8],[-0.85,4.0],[-0.8,3.3],[-0.7,2.7],[-0.6,2.1],[-0.5,1.6],[-0.4,1.0],[-0.3,0.6],[-0.75,2.0],[-0.9,2.8],[-0.9,1.8],[-0.7,0.7],[-0.95,6.0],[-0.9,7.0],[-0.85,9.5],[-1.1,0.5],[0.3,0.7],[0.45,1.0],[0.55,1.6],[0.65,2.2],[0.75,2.9],[0.8,3.5],[0.9,4.2],[0.85,5.3],[0.9,8.8],[0.9,10.8],[0.7,1.6],[0.9,1.6],[0.5,0.5],[0.7,0.3],[0.25,0.2],[-0.4,0.3],[-0.65,0.2]];

// tick label arrays
const A_xticks=[-2,-1,0,1,2,3,4,5];
const B_xticks=[-2,0,2,4,6];
const C_xticks=[-2,0,2,4,6];
const D_xticks=[-4,-2,0,2,4];
const E_xticks=[-6,-4,-2,0,2,4,6];
const F_xticks=[-6,-4,-2,0,2,4,6];
const yticksAll=[0,5,10,15,20];
const fdrThreshold=1.301;

const panels=[
 {id:'A',red:A_red,blue:A_blue,grey:A_grey.concat(A_core),xt:A_xticks,xlim:[-2.264,5.949],ylim:[-1.013,22.84],box:[159,1418,34,976],lx:33,ly:81},
 {id:'B',red:B_red,blue:B_blue,grey:B_grey.concat(B_core),xt:B_xticks,xlim:[-2.504,6.962],ylim:[-1.093,24.0],box:[1614,2875,28,969],lx:1505,ly:88},
 {id:'C',red:C_red,blue:C_blue,grey:C_grey.concat(C_core),xt:C_xticks,xlim:[-2.798,7.48],ylim:[-1.17,25.04],box:[3089,4349,35,976],lx:2980,ly:93},
 {id:'D',red:D_red,blue:D_blue,grey:D_grey.concat(D_core),xt:D_xticks,xlim:[-4.161,5.584],ylim:[-1.067,22.76],box:[158,1418,1173,2114],lx:19,ly:1271},
 {id:'E',red:E_red,blue:E_blue,grey:E_grey.concat(E_core),xt:E_xticks,xlim:[-6.215,6.675],ylim:[-1.14,24.12],box:[1627,2887,1175,2117],lx:1514,ly:1249},
 {id:'F',red:F_red,blue:F_blue,grey:F_grey.concat(F_core),xt:F_xticks,xlim:[-6.406,7.803],ylim:[-1.19,24.97],box:[3093,4354,1175,2117],lx:3002,ly:1235}
];

const NS='http://www.w3.org/2000/svg';
const svg=document.getElementById('fig');
function mk(tag,attrs,parent){const e=document.createElementNS(NS,tag);for(const k in attrs)e.setAttribute(k,attrs[k]);(parent||svg).appendChild(e);return e;}
function fmt(v){return v<0?'\u2212'+Math.abs(v):String(v);}

panels.forEach(p=>{
  const [L,R,T,B]=p.box;
  const sx=v=>L+(v-p.xlim[0])/(p.xlim[1]-p.xlim[0])*(R-L);
  const sy=v=>B-(v-p.ylim[0])/(p.ylim[1]-p.ylim[0])*(B-T);
  const g=mk('g',{});
  
  
  const clipId='clip'+p.id;
  const cp=mk('clipPath',{id:clipId},g);
  mk('rect',{x:L,y:T,width:R-L,height:B-T},cp);
  const pts=mk('g',{'clip-path':'url(#'+clipId+')'},g);
  
  
  const series=[['grey',p.grey,'#000000','#000000',0.55],['red',p.red,'#ee1c1c','#c81414',0.8],['blue',p.blue,'#1c1ce6','#1010b0',0.8]];
  series.forEach(([nm,arr,col,edge,op])=>{
    const sg=mk('g',{fill:col,'fill-opacity':op,stroke:edge,'stroke-opacity':op,'stroke-width':1.5},pts);
    
    
    arr.forEach(d=>{
      const c=mk('circle',{cx:sx(d[0]).toFixed(1),cy:sy(d[1]).toFixed(1),r:12},sg);
      
      
    });
  });
  const vl=mk('line',{x1:sx(0),x2:sx(0),y1:T,y2:B,stroke:'#808080','stroke-width':3,'stroke-dasharray':'15 7'},g);
  
  
  const hl=mk('line',{x1:L,x2:R,y1:sy(fdrThreshold),y2:sy(fdrThreshold),stroke:'#ff0000','stroke-width':4,'stroke-dasharray':'24 10'},g);
  
  
  const fr=mk('rect',{x:L,y:T,width:R-L,height:B-T,fill:'none',stroke:'#000','stroke-width':3},g);
  
  
  p.xt.forEach(v=>{
    const x=sx(v);
    const tk=mk('line',{x1:x,x2:x,y1:B,y2:B+11,stroke:'#000','stroke-width':2.5},g);
    
    
    const t=mk('text',{x:x,y:B+52,'font-size':34,'text-anchor':'middle'},g);
    t.textContent=fmt(v);
    
    
  });
  yticksAll.forEach(v=>{
    const y=sy(v);
    const tk=mk('line',{x1:L-11,x2:L,y1:y,y2:y,stroke:'#000','stroke-width':2.5},g);
    
    
    const t=mk('text',{x:L-22,y:y+12,'font-size':34,'text-anchor':'end'},g);
    t.textContent=fmt(v);
    
    
  });
  const xl=mk('text',{x:(L+R)/2,y:B+101,'font-size':34,'text-anchor':'middle',textLength:300,lengthAdjust:'spacingAndGlyphs'},g);
  xl.textContent='Log2Fold Change';
  
  
  const cy=(T+B)/2, cx=L-97;
  const yl=mk('text',{x:cx,y:cy,'font-size':34,'text-anchor':'middle',transform:'rotate(-90 '+cx+' '+cy+')',textLength:208,lengthAdjust:'spacingAndGlyphs'},g);
  yl.textContent='-log10(FDR)';
  
  
  const lt=mk('text',{x:p.lx,y:p.ly,'font-size':70,class:'letter',transform:'translate('+p.lx+' 0) scale(1.12 1) translate('+(-p.lx)+' 0)'},g);
  lt.textContent=p.id;
  
  
});
</script>
</body>
</html>
